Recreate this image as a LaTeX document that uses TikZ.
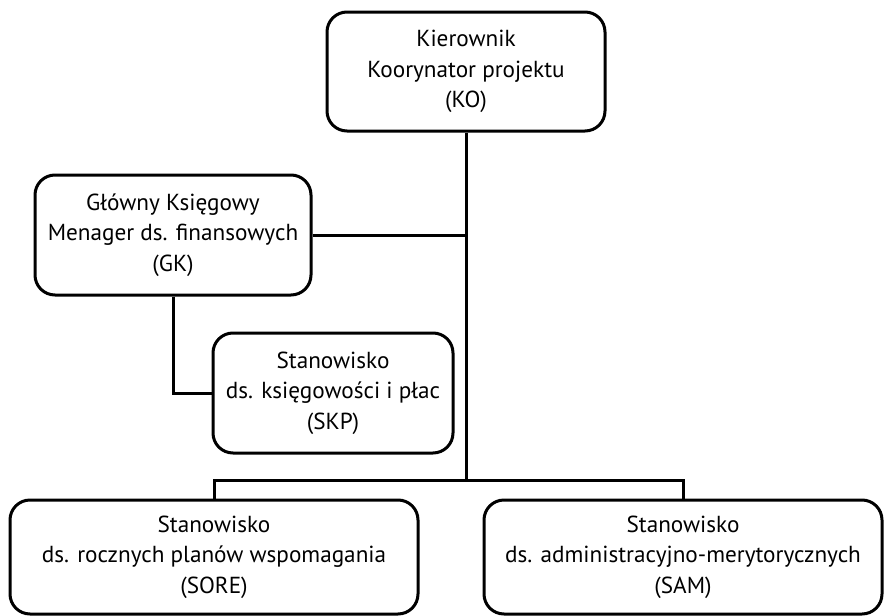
\documentclass[tikz,border=0pt]{standalone}
\usepackage{fontspec}
\setmainfont{PT Sans}
\begin{document}
\begin{tikzpicture}[x=1pt,y=-1pt,
  box/.style={draw, line width=3pt, rounded corners=20pt, inner sep=0pt, align=center,
    font=\fontsize{23.2}{30.5}\selectfont},
  conn/.style={line width=3pt}]
\useasboundingbox (0,0) rectangle (884,616);
\node[box, minimum width=278pt, minimum height=119pt] (ko) at (466,71.5)
  {Kierownik\\Koorynator projektu\\(KO)};
\node[box, minimum width=276pt, minimum height=120pt] (gk) at (173,235)
  {Główny Księgowy\\Menager ds. finansowych\\(GK)};
\node[box, minimum width=240pt, minimum height=120pt] (skp) at (333,393)
  {Stanowisko\\ds. księgowości i płac\\(SKP)};
\node[box, minimum width=408pt, minimum height=114pt] (sore) at (214,557)
  {Stanowisko\\ds. rocznych planów wspomagania\\(SORE)};
\node[box, minimum width=398pt, minimum height=114pt] (sam) at (683,557)
  {Stanowisko\\ds. administracyjno-merytorycznych\\(SAM)};
\coordinate (bus) at (466,480);
\draw[conn] (ko.south) -- (bus);
\draw[conn] (gk.east) -- (gk.east -| bus);
\draw[conn] (gk.south) |- (skp.west);
\draw[conn] (sore.north) |- (bus) -| (sam.north);
\end{tikzpicture}
\end{document}
